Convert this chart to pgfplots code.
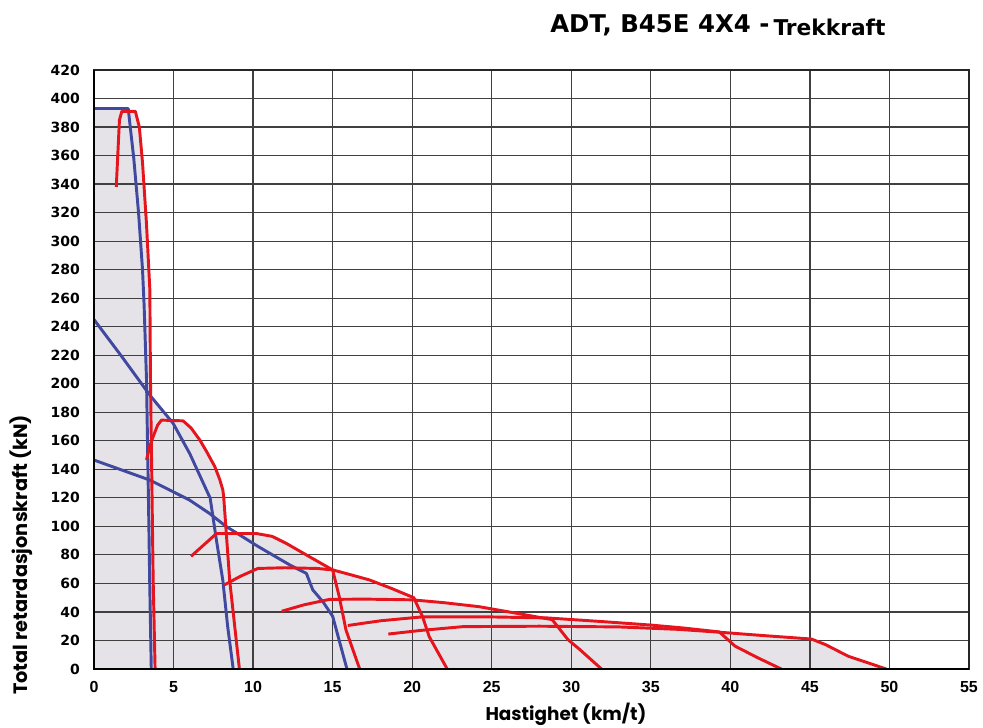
\documentclass[border=0pt]{standalone}
\usepackage{fontspec}
\setmainfont{Liberation Sans}
\newfontfamily\dejavu{DejaVu Sans}
\newfontfamily\poppins{Poppins}
\usepackage{pgfplots}
\pgfplotsset{compat=1.18}
\definecolor{cblue}{RGB}{64,72,160}
\definecolor{cred}{RGB}{230,20,28}
\definecolor{cfill}{RGB}{229,227,232}
\begin{document}
\begin{tikzpicture}
\begin{axis}[
  set layers,
  at={(0,0)}, anchor=south west,
  scale only axis, width=656.25pt, height=449.25pt,
  xmin=0, xmax=55, ymin=0, ymax=420,
  xtick={0,5,...,55}, ytick={0,20,...,420},
  grid=major, grid style={black!75, line width=0.9pt},
  major tick length=0pt,
  axis line style={black!85, line width=0.9pt},
  tick label style={/pgf/number format/assume math mode=true},
  yticklabel style={font=\dejavu\fontsize{10.5}{10.5}\selectfont\bfseries, xshift=-7pt},
  xticklabel style={font=\fontsize{12}{12}\selectfont\bfseries, yshift=-6pt},
  every axis plot/.append style={line width=2.2pt, line join=round},
]
% shaded envelope
\addplot[on layer=axis background, fill=cfill, draw=none, line width=0pt] coordinates {
(0,0)(0,393)(2.15,393)(2.25,391)(2.6,391)(2.85,380)(3.05,355)(3.3,312)(3.51,266)(3.55,203)(3.56,191)
(4.0,185.5)(4.5,178.5)(4.82,174.2)(5.6,174)(6.1,169)(6.65,160.6)(7.1,152)(7.59,142)(7.9,133)(8.1,125.5)(8.15,121)
(8.32,95)(10.2,95)(11.2,93)(12.1,88)(13.5,79)(15,69.5)(16,66.5)(17.3,62.5)(18.7,56.5)(20.1,50)(20.15,48.5)
(22,46.5)(24.2,43.7)(26.5,39.2)(28.3,35.8)(32,33.2)(35,30.8)(37,28.8)(39.3,26)(42,23.5)(45.1,21)(46,17)(47.4,9)(49.8,0)
} -- cycle;
% blue curves
\addplot[cblue] coordinates {(0,393)(2.15,393)(2.5,358)(2.8,320)(3.05,280)(3.15,255)(3.3,203)(3.45,100)(3.5,62)(3.6,0)};
\addplot[cblue] coordinates {(0,245)(1.75,219)(3.51,192)(4.97,172.3)(6.02,151)(7.17,123)(7.3,120)(7.7,90)(8.1,62)(8.4,30)(8.75,0)};
\addplot[cblue] coordinates {(0,146.5)(3.5,132.5)(6,118.5)(7.27,109)(8.3,100)(10.3,86)(12.3,73)(13.35,67)(13.75,55.5)(14.4,47)(15.0,37)(15.9,0)};
% red curves
\addplot[cred] coordinates {(1.4,338)(1.6,385)(1.75,391)(2.6,391)(2.85,380)(3.05,355)(3.3,312)(3.51,266)(3.55,203)(3.65,120)(3.72,62)(3.84,0)};
\addplot[cred] coordinates {(3.3,146.6)(3.5,156)(3.72,163)(4.0,171)(4.24,174.5)(5.6,174)(6.1,169)(6.65,160.6)(7.1,152)(7.59,142)(7.9,133)(8.1,125.5)(8.15,121)(8.53,62)(9.14,0)};
\addplot[cred] coordinates {(6.1,79)(7.0,88)(7.7,95)(10.2,95)(11.2,93)(12.1,88)(13.5,79)(15.0,69.5)(15.42,50.5)(15.84,27.3)(16.7,0)};
\addplot[cred] coordinates {(8.2,59)(9.2,65)(10.3,70.5)(12,71)(14,70.5)(15,69.5)(16,66.5)(17.3,62.5)(18.7,56.5)(20.1,50)(20.65,36.7)(21.07,22.7)(22.2,0)};
\addplot[cred] coordinates {(11.8,40.5)(13.2,45)(14.8,48.8)(17,49)(20,48.5)(22,46.5)(24.2,43.7)(26.5,39.2)(28.8,34.6)(29.8,20.5)(30.5,14)(31.9,0)};
\addplot[cred] coordinates {(15.95,30.5)(18,33.8)(20.6,36.5)(25,36.5)(28.5,35.8)(32,33.2)(35,30.8)(37,28.8)(39.3,26)(40.3,16)(41.7,8)(43.2,0)};
\addplot[cred] coordinates {(18.5,24.5)(20.5,27)(23.2,29.7)(28,30)(33,29.5)(36.7,27.8)(39.3,25.8)(42,23.5)(45.1,21)(46,17)(47.4,9)(49.8,0)};
\end{axis}
\draw[black, line width=1.5pt] (0,449.25pt) -- (0,0) -- (656.25pt,0);
\node[anchor=base west, font=\dejavu\bfseries\fontsize{18.3}{18.3}\selectfont, inner sep=0pt] at (342pt,477pt) {ADT, B45E 4X4 -\,\raisebox{-2.2pt}{\fontsize{16.3}{16.3}\selectfont Trekkraft}};
\node[anchor=base, font=\poppins\bfseries\fontsize{13.8}{13.8}\selectfont, inner sep=0pt] at (354pt,-39pt) {Hastighet (km/t)};
\node[anchor=base, rotate=90, font=\poppins\bfseries\fontsize{14.5}{14.5}\selectfont, inner sep=0pt] at (-50pt,85.5pt) {Total retardasjonskraft (kN)};
\pgfresetboundingbox
\path[use as bounding box] (-70.5pt,-44.25pt) rectangle (666.75pt,501.75pt);
\end{tikzpicture}
\end{document}
